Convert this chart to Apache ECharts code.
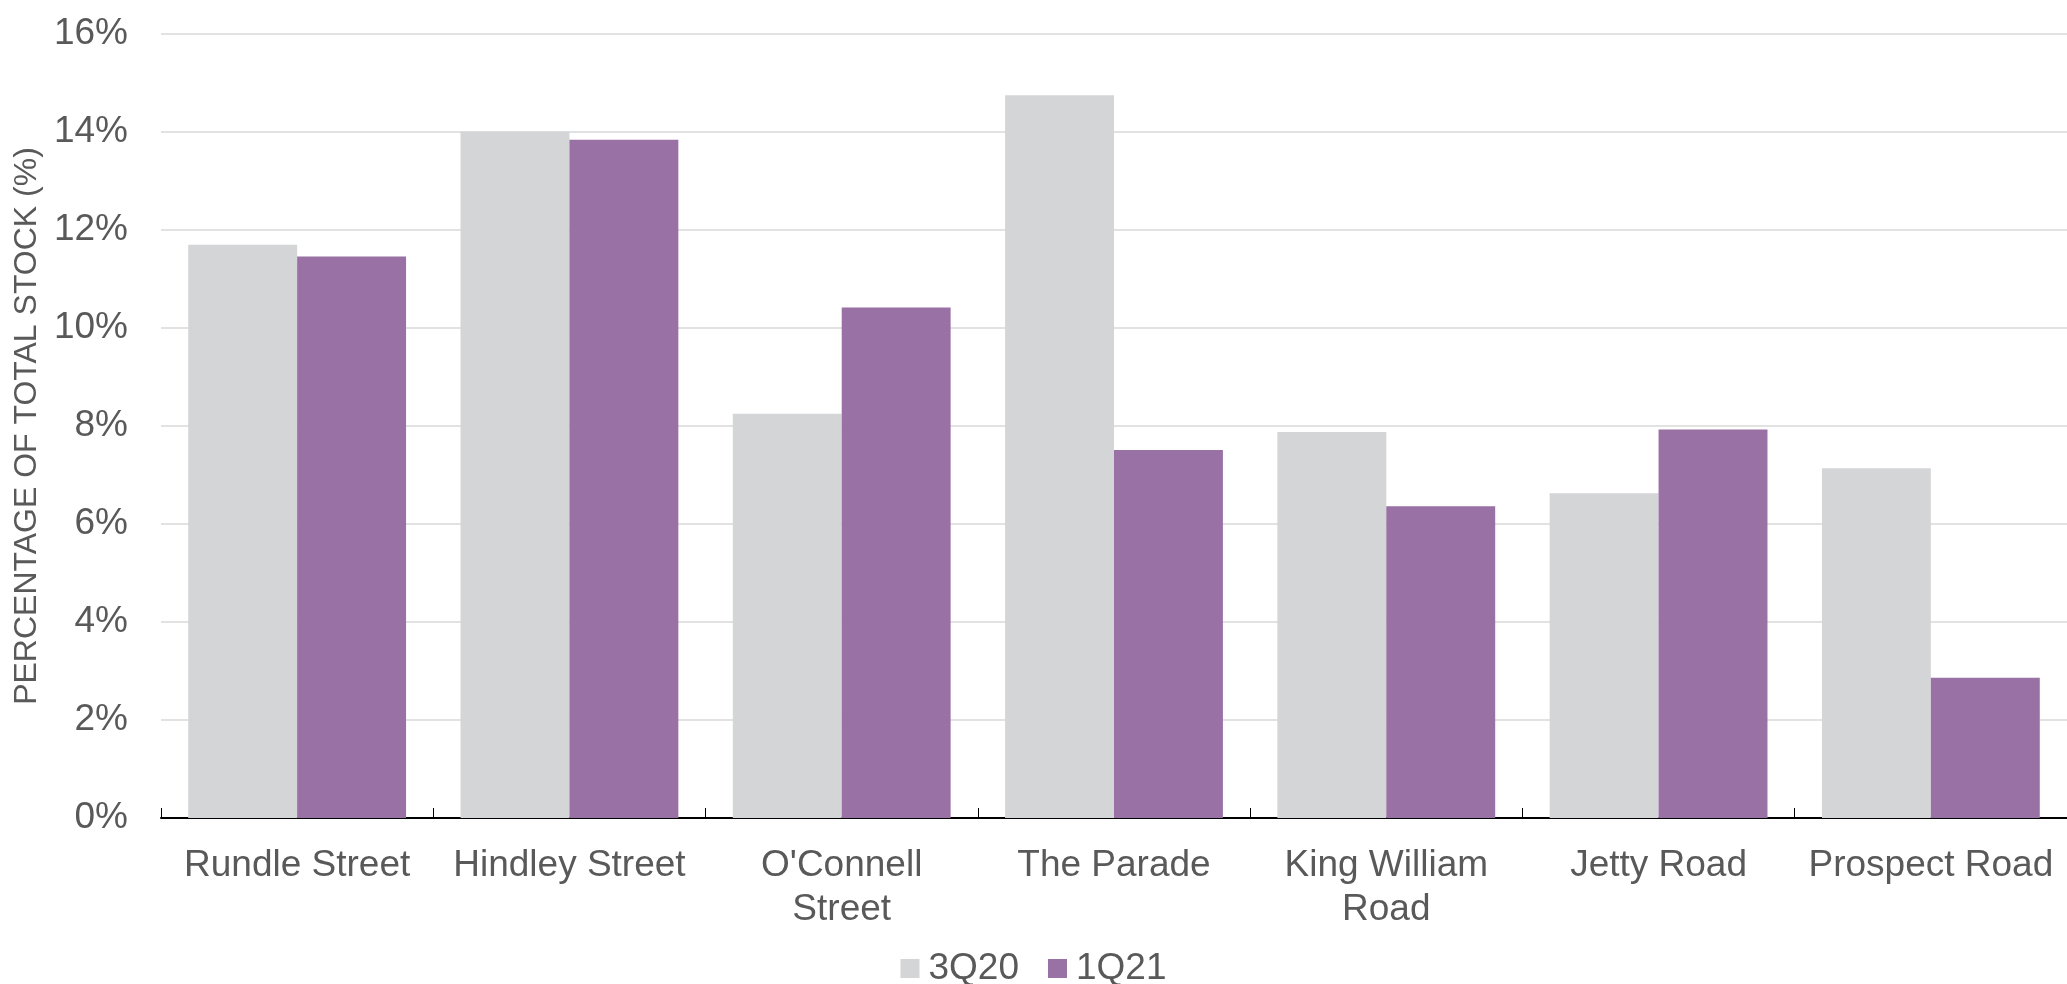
<!DOCTYPE html>
<html>
<head>
<meta charset="utf-8">
<script src="https://cdn.jsdelivr.net/npm/echarts@6/dist/echarts.min.js"></script>
<style>html,body{margin:0;padding:0;background:#fff;}#c{width:2067px;height:984px;}</style>
</head>
<body>
<div id="c"></div>
<script>
const categories = ['Rundle Street', 'Hindley Street', "O'Connell\nStreet", 'The Parade', 'King William\nRoad', 'Jetty Road', 'Prospect Road'];
const series3Q20 = [11.70, 14.01, 8.25, 14.75, 7.88, 6.63, 7.14];
const series1Q21 = [11.46, 13.84, 10.42, 7.51, 6.36, 7.93, 2.86];
const seriesNames = ['3Q20', '1Q21'];

const chart = echarts.init(document.getElementById('c'), null, {renderer: 'canvas'});
const font = 'Liberation Sans, Arial, sans-serif';
chart.setOption({
  animation: false,
  textStyle: {fontFamily: font},
  grid: {left: 161, right: 0, top: 34, bottom: 166, containLabel: false, outerBoundsMode: 'none'},
  legend: {
    data: seriesNames,
    left: 'center',
    top: 950,
    padding: 0,
    itemWidth: 19,
    itemHeight: 19,
    itemGap: 29,
    icon: 'rect',
    textStyle: {fontSize: 37, lineHeight: 19, color: '#595959', fontFamily: font, padding: [0, 0, 0, 4]}
  },
  xAxis: {
    type: 'category',
    data: categories,
    axisLine: {lineStyle: {color: '#000', width: 2}},
    axisTick: {show: true, inside: true, length: 10, alignWithLabel: false, lineStyle: {color: '#000', width: 1}},
    axisLabel: {fontSize: 37, color: '#595959', fontFamily: font, margin: 26, lineHeight: 44, interval: 0}
  },
  yAxis: {
    type: 'value',
    min: 0, max: 16, interval: 2,
    name: 'PERCENTAGE OF TOTAL STOCK (%)',
    nameLocation: 'middle',
    nameGap: 116,
    nameTextStyle: {fontSize: 32, color: '#595959', fontFamily: font},
    axisLine: {show: false},
    axisTick: {show: false},
    splitLine: {lineStyle: {color: '#d9d9d9', width: 1.5}},
    axisLabel: {fontSize: 37, color: '#595959', fontFamily: font, margin: 33, formatter: v => v + '%'}
  },
  series: [
    {name: seriesNames[0], type: 'bar', data: series3Q20, barGap: '0%', barCategoryGap: '20%',
     itemStyle: {color: '#d4d5d7'}},
    {name: seriesNames[1], type: 'bar', data: series1Q21, barGap: '0%', barCategoryGap: '20%',
     itemStyle: {color: '#9971a4'}}
  ]
});
</script>
</body>
</html>
